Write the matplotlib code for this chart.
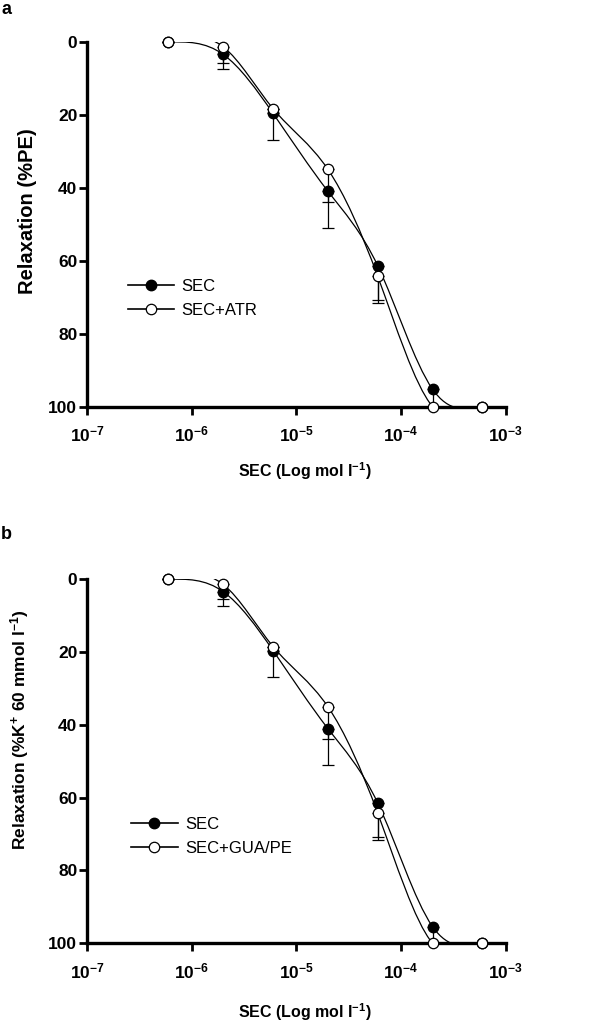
import numpy as np
import matplotlib
matplotlib.use("Agg")
import matplotlib.pyplot as plt
from matplotlib.path import Path
from matplotlib.patches import PathPatch
from matplotlib.lines import Line2D
from matplotlib.ticker import NullLocator

plt.rcParams['font.family'] = ['Liberation Sans', 'DejaVu Sans']
plt.rcParams['mathtext.fontset'] = 'custom'
plt.rcParams['mathtext.rm'] = 'Liberation Sans'
plt.rcParams['mathtext.bf'] = 'Liberation Sans:bold'
plt.rcParams['mathtext.default'] = 'bf'

# concentrations (mol/l)
conc = [6e-7, 2e-6, 6e-6, 2e-5, 6e-5, 2e-4, 6e-4]

# panel a
sec_a = [0, 3.4, 19.6, 40.9, 61.4, 95.2, 100]
sec_a_err = [0, 4.0, 7.2, 10.1, 10.2, 4.8, 0]
atr_a = [0, 1.3, 18.3, 34.9, 64.3, 100, 100]
atr_a_err = [0, 4.5, 0, 9.0, 6.5, 0, 0]

# panel b
sec_b = [0, 3.4, 19.6, 41.0, 61.5, 95.4, 100]
sec_b_err = [0, 3.9, 7.2, 10.1, 10.2, 4.6, 0]
gua_b = [0, 1.4, 18.5, 35.0, 64.3, 100, 100]
gua_b_err = [0, 4.1, 0, 9.0, 6.6, 0, 0]

xtick_vals = [1e-7, 1e-6, 1e-5, 1e-4, 1e-3]
xtick_labels = ['$10^{-7}$', '$10^{-6}$', '$10^{-5}$', '$10^{-4}$', '$10^{-3}$']
ytick_vals = [0, 20, 40, 60, 80, 100]


# natural cubic spline through the points, drawn as bezier segments (log-x space)
def smooth_path(x, y):
    lx = np.log10(x)
    y = np.asarray(y, float)
    n = len(lx)
    h = np.diff(lx)
    A = np.zeros((n, n))
    r = np.zeros(n)
    A[0, 0] = A[-1, -1] = 1
    for i in range(1, n - 1):
        A[i, i - 1] = h[i - 1]
        A[i, i] = 2 * (h[i - 1] + h[i])
        A[i, i + 1] = h[i]
        r[i] = 6 * ((y[i + 1] - y[i]) / h[i] - (y[i] - y[i - 1]) / h[i - 1])
    M = np.linalg.solve(A, r)
    verts = [(lx[0], y[0])]
    codes = [Path.MOVETO]
    for i in range(n - 1):
        s = (y[i + 1] - y[i]) / h[i]
        d0 = s - h[i] * (2 * M[i] + M[i + 1]) / 6
        d1 = s + h[i] * (M[i] + 2 * M[i + 1]) / 6
        verts += [(lx[i] + h[i] / 3, y[i] + d0 * h[i] / 3),
                  (lx[i + 1] - h[i] / 3, y[i + 1] - d1 * h[i] / 3),
                  (lx[i + 1], y[i + 1])]
        codes += [Path.CURVE4] * 3
    verts = np.array(verts)
    verts[:, 0] = 10 ** verts[:, 0]
    return Path(verts, codes)


def draw_panel(ax, filled, filled_err, opened, opened_err, open_name, ylabel,
               ylab_size, leg_anchor, xlab_y, ylab_xy):
    for vals in (filled, opened):
        ax.add_patch(PathPatch(smooth_path(conc, vals), facecolor='none',
                               edgecolor='black', lw=0.9, zorder=2))
    z = np.zeros(len(conc))
    ax.errorbar(conc, filled, yerr=[z, filled_err], fmt='none', ecolor='black',
                elinewidth=0.9, capsize=4.5, capthick=0.9, zorder=2.5, clip_on=False)
    ax.errorbar(conc, opened, yerr=[z, opened_err], fmt='none', ecolor='black',
                elinewidth=0.9, capsize=4.5, capthick=0.9, zorder=2.5, clip_on=False)
    ax.plot(conc, filled, 'o', ms=7.5, mfc='black', mec='black', ls='none',
            zorder=4, clip_on=False)
    ax.plot(conc, opened, 'o', ms=7.5, mfc='white', mec='black', mew=0.9, ls='none',
            zorder=5, clip_on=False)

    ax.set_xscale('log')
    ax.set_xlim(1e-7, 1e-3)
    ax.set_ylim(100, 0)
    ax.set_xticks(xtick_vals, xtick_labels)
    ax.xaxis.set_minor_locator(NullLocator())
    ax.set_yticks(ytick_vals)
    for s in ('top', 'right'):
        ax.spines[s].set_visible(False)
    for s in ('left', 'bottom'):
        ax.spines[s].set_linewidth(2.4)
    ax.tick_params(axis='y', length=6, width=2, pad=1, labelsize=12.5)
    ax.tick_params(axis='x', length=6, width=2, pad=7, labelsize=12.5)
    for lab in ax.get_yticklabels():
        lab.set_fontweight('bold')

    ax.set_xlabel('SEC (Log mol l$^{-1}$)', fontsize=11.5, fontweight='bold')
    ax.xaxis.label.set_va('center')
    ax.xaxis.set_label_coords(0.52, xlab_y)
    ax.set_ylabel(ylabel, fontsize=ylab_size, fontweight='bold')
    ax.yaxis.label.set_va('center')
    ax.yaxis.set_label_coords(*ylab_xy)

    handles = [
        Line2D([], [], color='black', lw=1.2, marker='o', ms=7.5, mfc='black', mec='black'),
        Line2D([], [], color='black', lw=1.2, marker='o', ms=7.5, mfc='white', mec='black',
               mew=0.9),
    ]
    ax.legend(handles, ['SEC', open_name], loc='center left', bbox_to_anchor=leg_anchor,
              frameon=False, fontsize=12, handlelength=2.8, handletextpad=0.45,
              labelspacing=0.55, borderpad=0, borderaxespad=0, numpoints=1)


fig = plt.figure(figsize=(6, 10.22), dpi=100)
ax_a = fig.add_axes([0.145, 0.6021, 0.6978, 0.3568])
ax_b = fig.add_axes([0.145, 0.0770, 0.6978, 0.3562])

draw_panel(ax_a, sec_a, sec_a_err, atr_a, atr_a_err, 'SEC+ATR', 'Relaxation (%PE)', 14.5,
           (0.097, 0.296), -0.178, (-0.142, 0.537))
draw_panel(ax_b, sec_b, sec_b_err, gua_b, gua_b_err, 'SEC+GUA/PE',
           'Relaxation (%K$^{+}$ 60 mmol l$^{-1}$)', 12.5, (0.105, 0.294), -0.188,
           (-0.162, 0.586))

fig.text(0.002, 0.999, 'a', fontsize=13, fontweight='bold', va='top', ha='left')
fig.text(0.002, 1 - 526 / 1022, 'b', fontsize=13, fontweight='bold', va='top', ha='left')

fig.savefig('out.png', dpi=100)
